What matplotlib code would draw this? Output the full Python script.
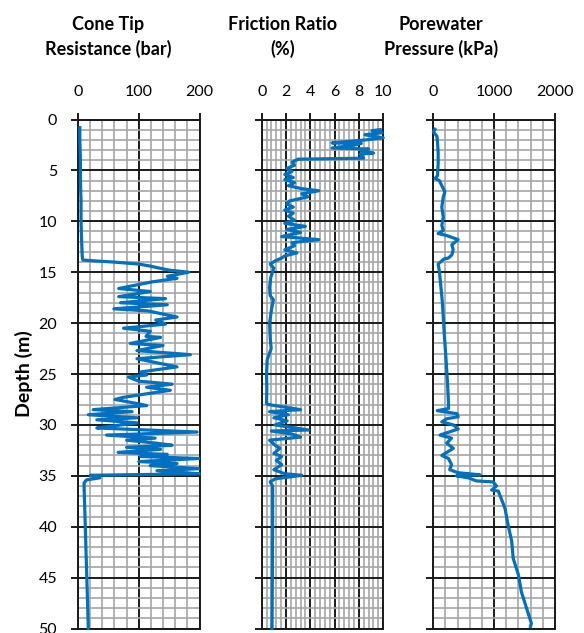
import matplotlib
matplotlib.use("Agg")
import matplotlib.pyplot as plt
from matplotlib.ticker import MultipleLocator

plt.rcParams['font.family'] = ['Lato', 'DejaVu Sans']

# ---------------- data ----------------
qc_depth = [0.8, 2, 4, 6, 8, 10, 12, 13.5, 13.8, 13.9, 14.0, 14.2, 14.4, 14.55, 14.8, 15.0,
            15.4, 15.6, 15.95, 16.6, 16.9, 17.4, 17.6, 18.0, 18.2, 18.6, 18.8, 19.4, 19.7,
            20.1, 20.5, 20.8, 21.3, 21.4, 22.0, 22.2, 22.7, 23.1, 23.5, 24.3, 24.8, 25.1,
            25.3, 25.7, 26.0, 26.3, 26.6, 27.0, 27.3, 27.5, 27.9, 28.1, 28.5, 28.7, 29.0,
            29.3, 29.5, 29.8, 30.1, 30.3, 30.5, 30.7, 31.0, 31.3, 31.5, 31.8, 32.0, 32.2,
            32.4, 32.7, 32.9, 33.1, 33.3, 33.6, 33.8, 34.0, 34.3, 34.5, 34.8, 34.95, 35.2,
            35.4, 35.7, 36.0, 38, 40, 42, 44, 46, 48, 50]
qc_value = [3, 3, 4, 4, 5, 5, 6, 7, 8, 30, 58, 100, 119, 130, 150, 182,
            147, 163, 122, 67, 119, 67, 144, 70, 147, 59, 115, 163, 128,
            144, 75, 119, 112, 136, 86, 140, 97, 185, 97, 163, 103, 113,
            83, 100, 155, 113, 152, 107, 74, 61, 97, 113, 25, 89, 17,
            97, 31, 97, 58, 31, 113, 196, 47, 127, 80, 130, 155, 80,
            136, 66, 147, 103, 199, 100, 163, 119, 199, 130, 200, 20, 36,
            14, 10, 10, 11, 12, 13, 14, 15, 16, 17]

fr_depth = [1.0, 1.1, 1.3, 1.5, 1.8, 2.0, 2.3, 2.35, 2.5, 2.8, 2.9, 3.1, 3.3, 3.4, 3.8,
            3.9, 4.2, 4.5, 4.8, 5.1, 5.4, 5.7, 5.9, 6.2, 6.5, 6.8, 7.0, 7.3, 7.6, 8.0,
            8.3, 8.6, 8.9, 9.2, 9.5, 9.9, 10.2, 10.5, 10.8, 11.1, 11.5, 11.8, 12.1, 12.4,
            12.8, 13.1, 13.4, 13.6, 13.9, 14.2, 14.6, 15.5, 16.5, 17.3, 17.7, 18.7, 20.0,
            21.5, 22.5, 23.6, 25.0, 26.5, 27.9, 28.0, 28.5, 28.7, 29.0, 29.3, 29.6, 30.0,
            30.5, 30.6, 30.9, 31.2, 31.5, 32.0, 32.3, 32.8, 33.1, 33.5, 33.9, 34.4, 34.8,
            34.95, 35.3, 35.6, 36.0, 38, 40, 42, 44, 46, 48, 50]
fr_value = [9.75, 9.07, 9.9, 8.5, 10.0, 8.6, 5.8, 8.2, 7.7, 5.8, 8.8, 8.2, 9.2, 8.1, 8.4,
            3.0, 2.5, 2.7, 2.06, 2.5, 1.9, 2.6, 1.9, 2.7, 2.2, 3.3, 4.7, 3.3, 3.8, 2.3,
            2.06, 2.6, 1.9, 2.6, 2.2, 2.7, 1.9, 3.6, 2.06, 3.2, 1.65, 4.7, 2.5, 2.7,
            1.9, 2.9, 1.9, 1.65, 1.1, 0.7, 1.0, 0.75, 0.65, 0.7, 0.96, 0.8, 0.65,
            0.7, 0.78, 0.45, 0.4, 0.42, 0.4, 0.55, 3.2, 0.65, 2.2, 1.0, 2.1, 1.1,
            3.85, 0.8, 2.5, 3.2, 0.65, 1.1, 1.5, 1.0, 1.65, 1.2, 1.65, 1.0, 1.9,
            3.3, 1.1, 0.7, 0.9, 0.9, 0.9, 0.88, 0.88, 0.87, 0.86, 0.85]

u_depth = [0.97, 1.2, 1.65, 2.3, 3.3, 4.3, 5.5, 5.8, 6.0, 6.5, 7.1, 7.6, 8.6, 9.6, 10.4,
           10.9, 11.2, 11.4, 11.8, 12.3, 12.8, 13.3, 13.6, 13.7, 14.2, 14.9, 18.0, 21.0,
           23.6, 26.0, 27.9, 28.4, 28.6, 28.9, 29.2, 29.4, 29.7, 30.0, 30.4, 31.0, 31.3,
           31.8, 32.3, 33.0, 33.3, 33.9, 34.4, 34.7, 34.9, 35.0, 35.2, 35.5, 35.6, 36.0,
           36.4, 36.5, 38.2, 39.8, 41.4, 43.1, 44.7, 46.4, 48.0, 49.5, 49.8]
u_value = [28, 0, 60, 70, 80, 80, 70, 30, 100, 140, 190, 165, 140, 165, 140,
           165, 80, 220, 410, 305, 327, 305, 250, 175, 80, 100, 150, 180,
           210, 235, 250, 250, 65, 390, 410, 220, 140, 330, 410, 110, 300,
           220, 330, 140, 250, 300, 270, 410, 770, 380, 575, 710, 985, 1040,
           960, 1070, 1180, 1230, 1290, 1315, 1400, 1450, 1535, 1615, 1600]

titles = ["Cone Tip\nResistance (bar)", "Friction Ratio\n(%)", "Porewater\nPressure (kPa)"]
xlims = [(0, 200), (0, 10), (0, 2000)]
major_steps = [100, 2, 1000]
minor_steps = [20, 0.4, 200]
title_x = [108, 283, 441]
ylabel = "Depth (m)"

# ---------------- figure ----------------
W, H = 584, 633
fig = plt.figure(figsize=(W / 100, H / 100), dpi=100)

lefts = [78, 261.7, 433.3]
width = 121.5
top_px, bot_px = 119.5, 628.5

series = [(qc_value, qc_depth), (fr_value, fr_depth), (u_value, u_depth)]
line_color = '#0070C0'

for i in range(3):
    ax = fig.add_axes([lefts[i] / W, 1 - bot_px / H, width / W, (bot_px - top_px) / H])
    xs, ys = series[i]
    ax.plot(xs, ys, color=line_color, lw=2.3, solid_joinstyle='round', zorder=3, clip_on=False)
    ax.set_xlim(*xlims[i])
    ax.set_ylim(50, 0)
    ax.xaxis.set_major_locator(MultipleLocator(major_steps[i]))
    ax.xaxis.set_minor_locator(MultipleLocator(minor_steps[i]))
    ax.yaxis.set_major_locator(MultipleLocator(5))
    ax.yaxis.set_minor_locator(MultipleLocator(1))
    ax.xaxis.tick_top()
    ax.set_axisbelow(True)
    ax.grid(which='minor', color='#a6a6a6', lw=1.2)
    ax.grid(which='major', color='#1a1a1a', lw=1.4)
    ax.tick_params(which='minor', length=0)
    ax.tick_params(which='major', length=5, width=1.4, color='#1a1a1a',
                   labelsize=11.5, pad=10)
    for s in ax.spines.values():
        s.set_color('#1a1a1a')
        s.set_linewidth(1.4)
    if i == 0:
        ax.set_ylabel(ylabel, fontsize=14, fontweight='bold', labelpad=4)
    else:
        ax.tick_params(axis='y', labelleft=False)
    fig.text(title_x[i] / W, 1 - 37 / H, titles[i], ha='center', va='center',
             fontsize=13, fontweight='bold', linespacing=1.4)

fig.savefig('out.png', dpi=100)
